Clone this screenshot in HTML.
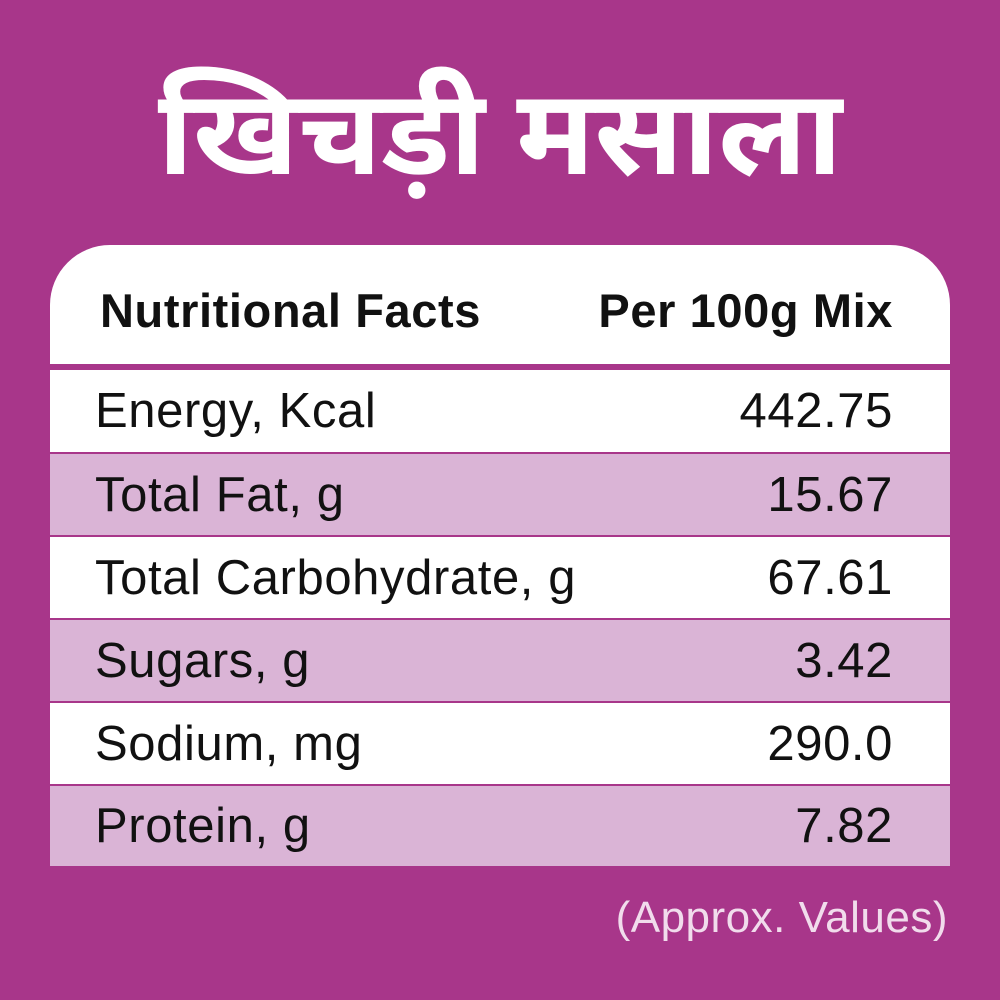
<!DOCTYPE html>
<html><head><meta charset="utf-8"><style>
body{margin:0;width:1000px;height:1000px;background:#a8368a;position:relative;overflow:hidden;font-family:"Liberation Sans",sans-serif}
.title{position:absolute;top:70px;left:0;width:1000px;text-align:center;color:#fff;font-size:120px;font-weight:bold;font-family:"Noto Sans Devanagari","Lohit Devanagari","Mukta","FreeSans",sans-serif;line-height:150px}
.card{position:absolute;left:50px;top:245px;width:900px;height:621px;background:#a8368a;border-radius:60px 60px 0 0;overflow:hidden}
.row{position:absolute;left:0;width:900px;display:flex;justify-content:space-between;align-items:center;box-sizing:border-box;padding:0 57px 0 45px;font-size:49px;letter-spacing:0.6px;color:#111}
.w{background:#fff}.l{background:#dab4d6}
.h{font-weight:bold;font-size:47px;letter-spacing:0.6px;padding-left:50px}
.foot{position:absolute;right:52px;top:893px;color:#f1dcec;font-size:44px;letter-spacing:0.5px}
</style></head><body>
<div class="title">खिचड़ी मसाला</div>
<div class="card">
<div class="row w h" style="top:0;height:119px;padding-top:12px"><span>Nutritional Facts</span><span>Per 100g Mix</span></div>
<div class="row w" style="top:125px;height:82px"><span>Energy, Kcal</span><span>442.75</span></div>
<div class="row l" style="top:209px;height:81px"><span>Total Fat, g</span><span>15.67</span></div>
<div class="row w" style="top:292px;height:81px"><span>Total Carbohydrate, g</span><span>67.61</span></div>
<div class="row l" style="top:375px;height:81px"><span>Sugars, g</span><span>3.42</span></div>
<div class="row w" style="top:458px;height:81px"><span>Sodium, mg</span><span>290.0</span></div>
<div class="row l" style="top:541px;height:80px"><span>Protein, g</span><span>7.82</span></div>
</div>
<div class="foot">(Approx. Values)</div>
</body></html>
